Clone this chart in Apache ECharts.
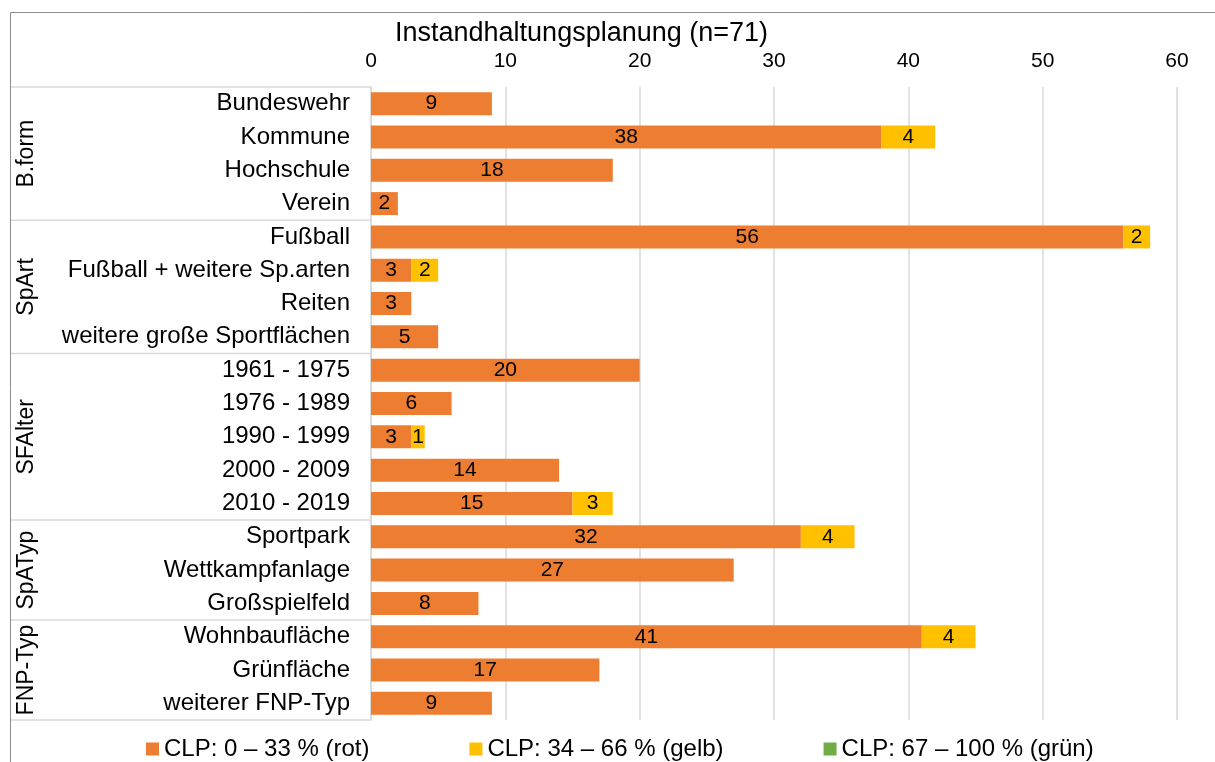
<!DOCTYPE html>
<html>
<head>
<meta charset="utf-8">
<script src="https://cdn.jsdelivr.net/npm/echarts@6/dist/echarts.min.js"></script>
<style>
  html, body { margin: 0; padding: 0; background: #fff; }
  #chart { width: 1215px; height: 762px; }
</style>
</head>
<body>
<div id="chart"></div>
<script>
// data
var categories = [
  'Bundeswehr', 'Kommune', 'Hochschule', 'Verein',
  'Fußball', 'Fußball + weitere Sp.arten', 'Reiten', 'weitere große Sportflächen',
  '1961 - 1975', '1976 - 1989', '1990 - 1999', '2000 - 2009', '2010 - 2019',
  'Sportpark', 'Wettkampfanlage', 'Großspielfeld',
  'Wohnbaufläche', 'Grünfläche', 'weiterer FNP-Typ'
];
var groupNames = ['B.form', 'SpArt', 'SFAlter', 'SpATyp', 'FNP-Typ'];
var groupSizes = [4, 4, 5, 3, 3];
var seriesNames = ['CLP: 0 – 33 % (rot)', 'CLP: 34 – 66 % (gelb)', 'CLP: 67 – 100 % (grün)'];
var redValues = [9, 38, 18, 2, 56, 3, 3, 5, 20, 6, 3, 14, 15, 32, 27, 8, 41, 17, 9];
var yellowValues = [null, 4, null, null, 2, 2, null, null, null, null, 1, null, 3, 4, null, null, 4, null, null];
var greenValues = [];

var FONT = '"Liberation Sans", Arial, sans-serif';
var GRID_COLOR = '#d9d9d9';

var chart = echarts.init(document.getElementById('chart'));

function barLabel() {
  return {
    show: true,
    position: 'inside',
    color: '#000',
    fontFamily: FONT,
    fontSize: 21,
    formatter: function (p) { return p.value ? p.value : ''; }
  };
}

chart.setOption({
  animation: false,
  title: {
    text: 'Instandhaltungsplanung (n=71)',
    left: 390,
    top: 15,
    textStyle: { fontFamily: FONT, fontSize: 27, fontWeight: 'normal', color: '#000' }
  },
  legend: {
    data: seriesNames,
    left: 146,
    top: 737,
    padding: 0,
    itemWidth: 13,
    itemHeight: 13,
    itemGap: 100,
    icon: 'rect',
    textStyle: { fontFamily: FONT, fontSize: 24, color: '#000' }
  },
  grid: { left: 371, right: 38, top: 87, bottom: 42 },
  xAxis: {
    type: 'value',
    position: 'top',
    min: 0,
    max: 60,
    interval: 10,
    axisLine: { show: false },
    axisTick: { show: false },
    axisLabel: { fontFamily: FONT, fontSize: 21, color: '#000', margin: 15 },
    splitLine: { lineStyle: { color: GRID_COLOR, width: 1.5 } }
  },
  yAxis: {
    type: 'category',
    data: categories,
    inverse: true,
    axisLine: { lineStyle: { color: GRID_COLOR, width: 1.5 } },
    axisTick: { show: false },
    axisLabel: { fontFamily: FONT, fontSize: 24, color: '#000', margin: 21 }
  },
  series: [
    { name: seriesNames[0], type: 'bar', stack: 'total', barWidth: 23, data: redValues,
      itemStyle: { color: '#ED7D31' }, label: barLabel() },
    { name: seriesNames[1], type: 'bar', stack: 'total', barWidth: 23, data: yellowValues,
      itemStyle: { color: '#FFC000' }, label: barLabel() },
    { name: seriesNames[2], type: 'bar', stack: 'total', barWidth: 23, data: greenValues,
      itemStyle: { color: '#70AD47' }, label: barLabel() }
  ]
});

// group separators and rotated group names, placed from the category axis
var c0 = chart.convertToPixel({ yAxisIndex: 0 }, 0);
var c1 = chart.convertToPixel({ yAxisIndex: 0 }, 1);
var band = c1 - c0;
var axisX = chart.convertToPixel({ xAxisIndex: 0 }, 0);
var graphics = [{
  type: 'rect',
  shape: { x: 10.5, y: 12.5, width: 1300, height: 900 },
  style: { fill: null, stroke: '#8c8c8c', lineWidth: 1 },
  silent: true
}];
var start = 0;
function sepLine(y) {
  return {
    type: 'line',
    shape: { x1: 11, y1: y, x2: axisX, y2: y },
    style: { stroke: GRID_COLOR, lineWidth: 1.5 },
    silent: true
  };
}
graphics.push(sepLine(c0 - band / 2));
groupSizes.forEach(function (n, g) {
  var top = c0 - band / 2 + start * band;
  var bottom = top + n * band;
  graphics.push(sepLine(bottom));
  graphics.push({
    type: 'text',
    x: 27,
    y: (top + bottom) / 2,
    rotation: Math.PI / 2,
    style: {
      text: groupNames[g],
      fontFamily: FONT,
      fontSize: 23,
      fill: '#000',
      align: 'center',
      verticalAlign: 'middle'
    },
    silent: true
  });
  start += n;
});
chart.setOption({ graphic: graphics });
</script>
</body>
</html>
